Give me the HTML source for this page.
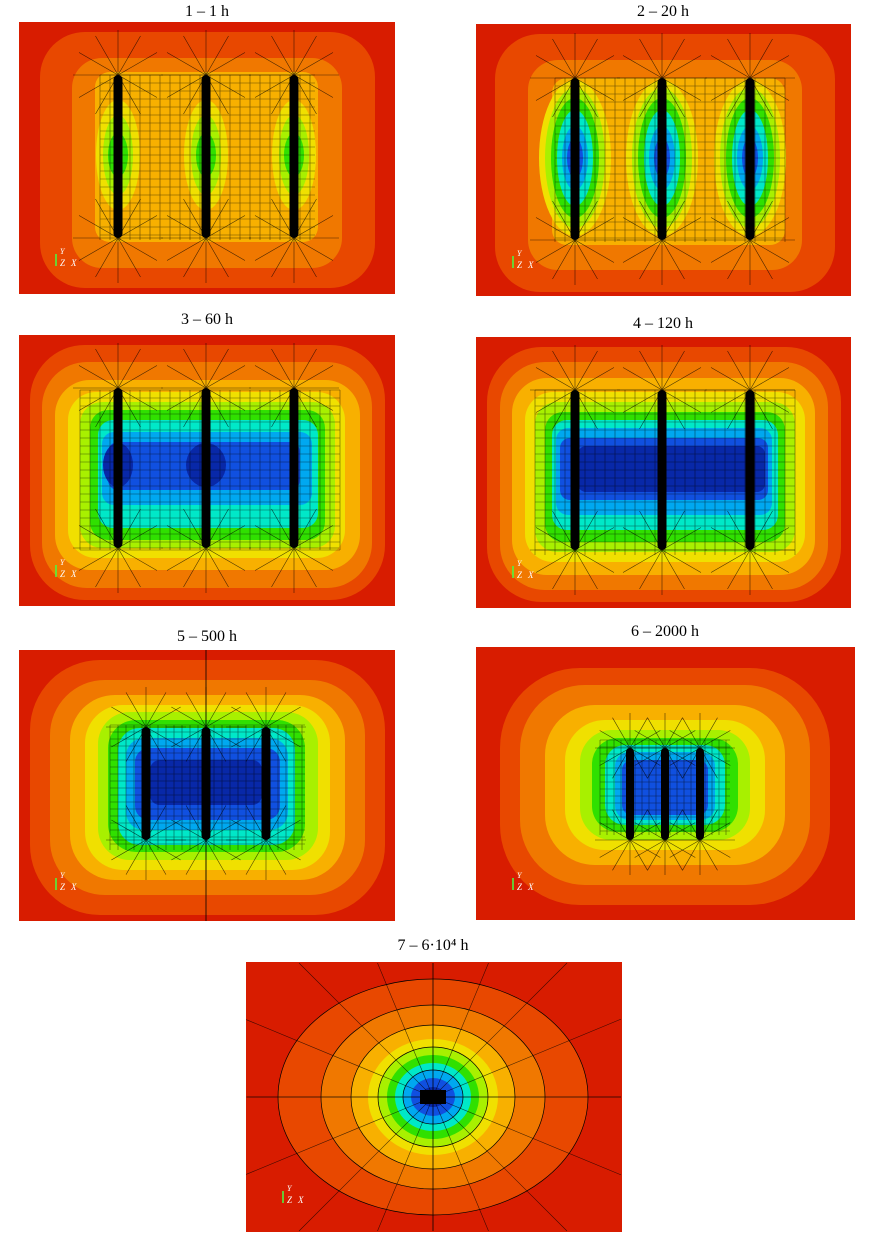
<!DOCTYPE html>
<html><head><meta charset="utf-8"><style>
html,body{margin:0;padding:0;background:#fff;overflow:hidden;width:869px;height:1244px}
svg{display:block}
text{font-family:"Liberation Serif",serif;}
</style></head><body>
<svg id="s" width="869" height="1244" viewBox="0 0 869 1244" xmlns="http://www.w3.org/2000/svg"><defs id="d"></defs></svg>
<script>
const S=document.getElementById('s');const D=document.getElementById('d');const NS='http://www.w3.org/2000/svg';
let P=S;let cid=0;
function el(t,a,txt,par){const e=document.createElementNS(NS,t);for(const k in a)e.setAttribute(k,a[k]);if(txt!==undefined)e.textContent=txt;(par||P).appendChild(e);return e;}
const C={r:'#d81c00',or:'#e84800',o:'#f07800',yo:'#f8b000',y:'#f0e000',l:'#a8f000',g:'#30e000',c:'#00e8c8',lb:'#00a8f0',b:'#1050e0',db:'#0828a8'};
function rr(x1,x2,y1,y2,f,rx){el('rect',{x:x1,y:y1,width:x2-x1,height:y2-y1,rx:rx||25,fill:f});}
function ell(cx,cy,rx,ry,f){el('ellipse',{cx,cy,rx,ry,fill:f});}
function grid(x1,x2,y1,y2,dx,dy){let d='';for(let x=x1;x<=x2;x+=dx)d+=`M${x} ${y1}V${y2}`;for(let y=y1;y<=y2;y+=dy)d+=`M${x1} ${y}H${x2}`;el('path',{d,stroke:'#000','stroke-width':0.6,fill:'none',opacity:0.6});}
function radial(cx,cy,r,n){let d='';for(let i=0;i<n;i++){const a=i*2*Math.PI/n;d+=`M${cx} ${cy}L${cx+r*Math.cos(a)} ${cy+r*Math.sin(a)}`;}el('path',{d,stroke:'#000','stroke-width':0.6,fill:'none',opacity:0.7});}
function radialBox(cx,cy,hx,hy,n){let d='';for(let i=0;i<n;i++){const a=i*2*Math.PI/n;const c=Math.cos(a),s=Math.sin(a);const t=Math.min(Math.abs(c)>1e-6?hx/Math.abs(c):1e9,Math.abs(s)>1e-6?hy/Math.abs(s):1e9);d+=`M${cx} ${cy}L${(cx+t*c).toFixed(1)} ${(cy+t*s).toFixed(1)}`;}el('path',{d,stroke:'#000','stroke-width':0.6,fill:'none',opacity:0.7});}
function rods(xs,y1,y2,w){xs.forEach(x=>el('rect',{x:x-w/2,y:y1,width:w,height:y2-y1,rx:w/2,fill:'#000'}));}
function frame(x,y,w,h,t,tx,ty){
  el('text',{x:tx,y:ty,'text-anchor':'middle','font-size':16},t,S);
  const id='c'+(cid++);const cp=el('clipPath',{id},undefined,D);el('rect',{x,y,width:w,height:h},undefined,cp);
  P=el('g',{'clip-path':`url(#${id})`},undefined,S);
  el('rect',{x,y,width:w,height:h,fill:C.r});
}
function axes(x,y){el('text',{x:x+4,y:y-12,'font-size':8,fill:'#fff','font-style':'italic'},'Y');el('text',{x:x+4,y:y,'font-size':9,fill:'#fff','font-style':'italic'},'Z');el('text',{x:x+15,y:y,'font-size':9,fill:'#fff','font-style':'italic'},'X');el('path',{d:`M${x} ${y}v-12`,stroke:'#4f4','stroke-width':1.5});}

// Panel 1
frame(19,22,376,272,'1 – 1 h',207,16);
rr(40,375,32,288,C.or,45);rr(72,342,58,268,C.o,30);rr(95,318,72,242,C.yo,15);
[118,206,294].forEach(x=>{ell(x,155,22,55,C.y);ell(x,155,15,40,C.l);ell(x,155,10,22,C.g);});
grid(100,315,75,240,10,8);rods([118,206,294],75,238,9);
[118,206,294].forEach(x=>{radial(x,75,45,12);radial(x,238,45,12);});
axes(56,266);

// Panel 2
frame(476,24,375,272,'2 – 20 h',663,16);
rr(495,835,34,292,C.or,45);rr(528,802,60,270,C.o,30);rr(552,785,78,245,C.yo,15);
[575,662,750].forEach(x=>{ell(x,158,36,78,C.y);ell(x,158,30,70,C.l);ell(x,158,24,60,C.g);ell(x,158,18,48,C.c);ell(x,158,13,32,C.lb);ell(x,158,8,20,C.b);});
grid(555,785,78,242,10,8);rods([575,662,750],78,240,9);
[575,662,750].forEach(x=>{radial(x,78,45,12);radial(x,240,45,12);});
axes(513,268);

// Panel 3
frame(19,335,376,271,'3 – 60 h',207,324);
rr(30,385,345,600,C.or,55);rr(42,372,362,588,C.o,45);rr(55,360,380,570,C.yo,35);
rr(68,345,392,558,C.y,28);rr(80,335,402,548,C.l,22);rr(90,325,410,540,C.g,18);
rr(98,318,420,528,C.c,15);rr(102,312,432,505,C.lb,12);rr(108,300,442,490,C.b,10);
ell(118,465,15,22,C.db);ell(206,465,20,22,C.db);
grid(80,340,390,550,10,8);rods([118,206,294],388,548,9);
[118,206,294].forEach(x=>{radial(x,388,45,12);radial(x,548,45,12);});
axes(56,577);

// Panel 4
frame(476,337,375,271,'4 – 120 h',663,328);
rr(487,841,347,602,C.or,55);rr(500,828,362,590,C.o,45);rr(512,815,378,575,C.yo,35);
rr(525,805,392,562,C.y,28);rr(535,795,402,552,C.l,22);rr(545,785,412,542,C.g,18);
rr(552,778,420,530,C.c,15);rr(556,772,428,515,C.lb,12);rr(560,768,438,500,C.b,10);
rr(578,765,446,492,C.db,8);
grid(535,795,390,555,10,8);rods([575,662,750],390,550,9);
[575,662,750].forEach(x=>{radial(x,390,45,12);radial(x,550,45,12);});
axes(513,578);

// Panel 5
frame(19,650,376,271,'5 – 500 h',207,641);
rr(30,385,660,915,C.or,70);rr(50,365,680,895,C.o,55);rr(70,345,695,880,C.yo,45);
rr(85,330,705,870,C.y,38);rr(98,318,712,860,C.l,32);rr(108,305,720,852,C.g,28);
rr(118,295,728,845,C.c,22);rr(126,288,738,830,C.lb,18);rr(135,280,748,820,C.b,14);
rr(150,262,760,805,C.db,10);
grid(110,305,725,850,8,7);rods([146,206,266],727,840,9);
[146,206,266].forEach(x=>{radial(x,727,40,12);radial(x,840,40,12);});
el('path',{d:'M206 650V921',stroke:'#000','stroke-width':0.8});
axes(56,890);

// Panel 6
frame(476,647,379,273,'6 – 2000 h',665,636);
rr(500,830,668,905,C.or,80);rr(520,810,685,885,C.o,65);rr(545,785,705,865,C.yo,50);
rr(565,765,720,850,C.y,40);rr(580,750,730,840,C.l,32);rr(592,738,738,832,C.g,26);
rr(605,725,745,825,C.c,20);rr(615,715,752,820,C.lb,14);rr(622,708,760,815,C.b,10);
grid(600,730,740,835,7,7);rods([630,665,700],748,840,8);
[630,665,700].forEach(x=>{radial(x,748,35,12);radial(x,840,35,12);});
axes(513,890);

// Panel 7
frame(246,962,376,270,'7 – 6·10⁴ h',433,950);
ell(433,1097,155,118,C.or);ell(433,1097,112,92,C.o);ell(433,1097,82,72,C.yo);
ell(433,1097,65,58,C.y);ell(433,1097,55,50,C.l);ell(433,1097,46,42,C.g);
ell(433,1097,38,34,C.c);ell(433,1097,30,27,C.lb);ell(433,1097,22,19,C.b);ell(433,1097,12,10,C.db);
radialBox(433,1097,188,134,16);
[[30,27],[55,50],[82,72],[112,92],[155,118]].forEach(r=>el('ellipse',{cx:433,cy:1097,rx:r[0],ry:r[1],fill:'none',stroke:'#000','stroke-width':0.7}));
el('rect',{x:420,y:1090,width:26,height:14,fill:'#000'});
el('path',{d:'M433 963V1231M247 1097H621',stroke:'#000','stroke-width':0.6});
axes(283,1203);
</script>
</body></html>
